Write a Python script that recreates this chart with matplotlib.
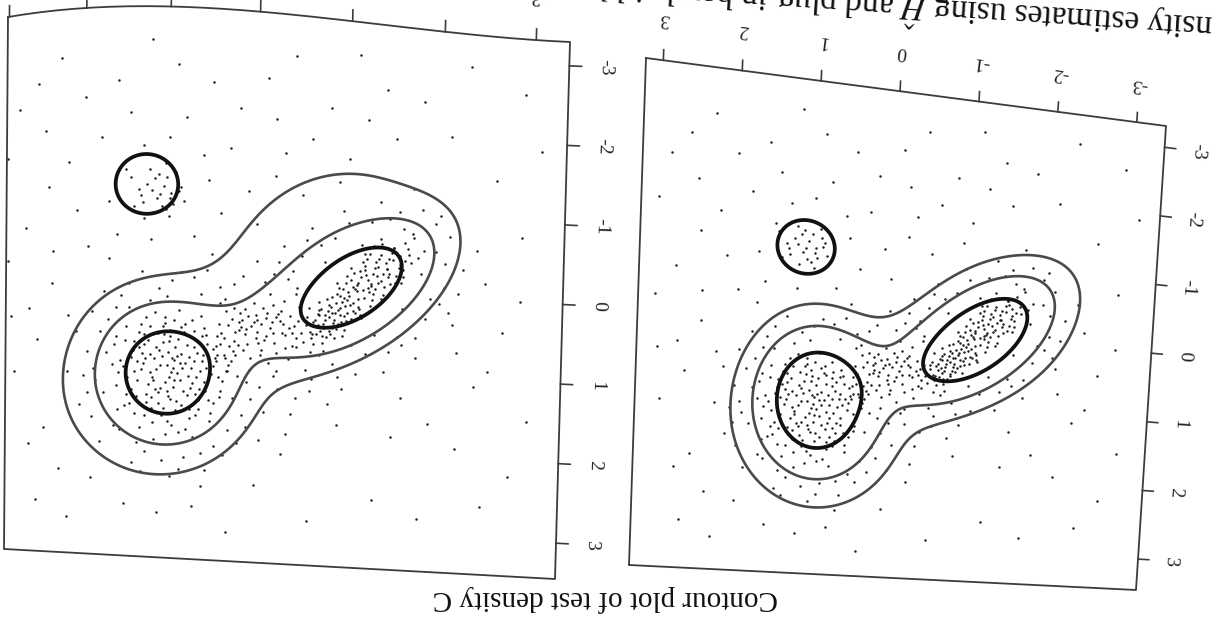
import numpy as np
import matplotlib
matplotlib.use("Agg")
import matplotlib.pyplot as plt
import matplotlib.transforms as mtransforms

plt.rcParams['font.family'] = ['Liberation Serif', 'DejaVu Serif']
plt.rcParams['mathtext.fontset'] = 'stix'

# --- the bivariate sample (x, y) -------------------------------------------
pts_a = [
    (0.91, 1.02), (0.75, 1.21), (1.12, 0.88), (0.64, 0.79), (1.30, 1.15), (0.98, 1.47), (0.55, 1.10), (1.05, 0.61), (0.83, 0.95), (1.21, 1.33),
    (0.70, 1.55), (1.40, 0.92), (0.47, 0.86), (0.96, 0.73), (1.18, 1.62), (0.62, 1.36), (0.88, 1.18), (1.33, 0.70), (0.79, 0.58), (1.08, 1.09),
    (0.52, 1.49), (1.46, 1.25), (0.94, 1.82), (0.68, 1.03), (1.25, 0.51), (0.41, 1.21), (1.02, 1.30), (0.86, 0.41), (1.55, 1.05), (0.73, 1.72),
    (1.15, 1.01), (0.58, 0.62), (0.99, 0.93), (1.36, 1.48), (0.81, 1.40), (1.22, 0.79), (0.44, 1.01), (0.92, 0.54), (1.09, 1.56), (0.66, 1.22),
    (1.48, 0.63), (0.77, 0.83), (1.01, 1.94), (0.35, 0.93), (1.28, 1.08), (0.89, 1.63), (0.61, 0.47), (1.17, 1.24), (0.72, 1.11), (1.59, 1.36),
    (0.97, 0.66), (0.50, 1.65), (1.39, 0.81), (0.84, 1.27), (1.05, 0.81), (0.65, 0.92), (1.26, 1.71), (0.93, 1.12), (0.43, 0.71), (1.14, 0.45),
    (0.78, 1.86), (1.44, 1.57), (0.57, 1.28), (1.07, 1.38), (0.87, 0.76), (1.63, 0.86), (0.69, 0.66), (1.20, 0.96), (0.95, 1.51), (0.38, 1.38),
    (1.11, 0.70), (0.76, 1.45), (1.34, 1.29), (0.59, 1.02), (1.00, 1.09), (0.83, 1.57), (1.51, 1.12), (0.71, 0.52), (1.24, 1.46), (0.90, 0.86),
    (0.46, 1.53), (1.16, 1.80), (0.63, 1.61), (1.42, 1.01), (0.85, 1.06), (1.03, 0.50), (0.54, 0.81), (1.31, 0.60), (0.97, 1.24), (0.74, 0.98),
    (1.19, 1.18), (0.67, 1.43), (1.06, 0.98), (0.31, 1.12), (1.37, 1.70), (0.80, 0.68), (1.10, 1.43), (0.60, 0.72), (0.92, 1.36), (1.27, 0.85),
    (0.82, 1.12), (1.13, 1.39), (0.58, 0.95), (1.29, 0.95), (0.97, 0.80), (0.71, 1.30), (1.41, 1.40), (0.88, 1.52), (1.20, 0.62), (0.49, 1.17),
    (1.06, 1.71), (0.77, 0.71), (1.35, 1.06), (0.63, 1.50), (0.94, 1.00), (1.23, 1.55), (0.55, 0.70), (1.49, 0.80), (0.86, 1.90), (1.02, 0.58),
    (0.40, 1.45), (1.31, 1.86), (0.69, 0.85), (1.12, 1.15), (0.91, 1.27), (1.57, 1.20), (0.74, 1.62), (0.99, 1.41), (1.27, 0.72), (0.52, 1.02),
    (0.88, 0.98), (1.16, 1.28), (0.61, 1.14), (1.38, 1.18), (0.79, 1.05), (1.04, 1.62), (0.70, 0.74), (1.25, 1.01), (0.95, 1.17), (0.56, 1.38),
    (1.47, 1.47), (0.84, 0.62), (1.09, 0.91), (0.66, 1.68), (1.33, 0.88), (0.99, 1.77), (0.45, 0.97), (1.18, 1.49), (0.73, 1.36), (1.03, 0.71),
]
pts_b = [
    (-1.02, 0.10), (-1.25, -0.05), (-0.84, 0.32), (-1.41, -0.35), (-0.70, 0.36), (-1.13, 0.25), (-0.95, 0.02), (-1.55, -0.30), (-0.62, 0.60), (-1.30, -0.02),
    (-1.07, -0.20), (-0.78, 0.15), (-1.48, -0.48), (-0.90, 0.45), (-1.20, -0.18), (-0.55, 0.44), (-1.66, -0.48), (-1.00, 0.30), (-0.73, 0.62), (-1.36, -0.12),
    (-1.16, -0.34), (-0.88, 0.20), (-1.60, -0.28), (-0.66, 0.50), (-1.27, 0.12), (-0.98, -0.06), (-1.45, -0.22), (-0.81, 0.55), (-1.10, 0.03), (-0.59, 0.28),
    (-1.71, -0.70), (-0.93, 0.34), (-1.34, -0.40), (-0.76, 0.42), (-1.22, -0.02), (-1.05, 0.38), (-1.52, -0.50), (-0.69, 0.20), (-1.14, -0.15), (-0.86, 0.63),
    (-1.39, 0.05), (-0.96, 0.12), (-1.62, -0.62), (-0.71, 0.55), (-1.18, 0.10), (-0.50, 0.60), (-1.29, -0.28), (-0.91, 0.00), (-1.46, -0.10), (-0.79, 0.30),
    (-1.08, 0.00), (-1.82, -0.55), (-0.64, 0.72), (-1.24, -0.45), (-0.99, 0.40), (-1.57, -0.35), (-0.83, 0.12), (-1.32, -0.18), (-0.57, 0.40), (-1.12, 0.22),
    (-1.43, -0.28), (-0.74, 0.46), (-1.03, -0.25), (-0.92, 0.25), (-1.68, -0.38), (-0.61, 0.82), (-1.19, -0.30), (-0.85, 0.44), (-1.37, -0.58), (-1.06, 0.18),
    (-0.72, 0.28), (-1.50, -0.55), (-0.97, 0.52), (-1.26, -0.08), (-0.53, 0.70), (-1.15, 0.35), (-0.89, -0.05), (-1.58, -0.12), (-0.80, 0.38), (-1.33, -0.30),
    (-1.01, 0.05), (-0.67, 0.60), (-1.44, -0.40), (-0.94, 0.18), (-1.76, -0.45), (-0.75, 0.80), (-1.21, -0.38), (-0.87, 0.32), (-1.09, 0.30), (-0.63, 0.45),
    (-1.40, -0.05), (-1.04, -0.10), (-0.82, 0.58), (-1.53, -0.20), (-0.68, 0.35), (-1.17, 0.00), (-0.45, 0.78), (-1.28, -0.55), (-0.95, 0.60), (-1.11, -0.08),
    (-1.03, 0.20), (-1.22, -0.12), (-0.86, 0.40), (-1.38, -0.22), (-0.74, 0.52), (-1.10, -0.05), (-0.92, 0.10), (-1.49, -0.40), (-0.65, 0.42), (-1.28, 0.05),
    (-1.14, 0.32), (-0.80, 0.22), (-1.56, -0.45), (-0.97, 0.35), (-1.19, -0.25), (-0.60, 0.58), (-1.65, -0.55), (-1.06, -0.02), (-0.88, 0.52), (-1.33, -0.10),
    (-1.44, -0.18), (-0.78, 0.62), (-1.25, 0.20), (-0.99, -0.15), (-0.70, 0.30), (-1.36, -0.45), (-0.90, 0.28), (-1.12, 0.12), (-1.60, -0.20), (-0.56, 0.50),
    (-1.00, 0.15), (-1.23, 0.02), (-0.83, 0.25), (-1.42, -0.28), (-0.69, 0.48), (-1.13, -0.22), (-0.94, 0.42), (-1.51, -0.12), (-0.76, 0.35), (-1.30, -0.35),
    (-1.06, 0.28), (-0.61, 0.65), (-1.37, 0.10), (-0.89, 0.08), (-1.18, -0.44), (-0.98, 0.22), (-1.62, -0.40), (-0.73, 0.70), (-1.27, -0.20), (-0.84, 0.50),
]
pts_bridge = [
    (-0.42, 0.52), (-0.25, 0.38), (-0.10, 0.71), (0.05, 0.55), (0.22, 0.92), (0.38, 0.66), (-0.33, 0.80), (-0.18, 0.49), (0.12, 0.35), (0.30, 1.05),
    (-0.48, 0.28), (-0.05, 0.90), (0.18, 0.62), (0.44, 0.83), (-0.29, 0.61), (0.00, 0.42), (0.26, 0.48), (-0.14, 1.00), (0.09, 0.78), (-0.38, 0.40),
    (0.34, 0.97), (-0.21, 0.74), (0.15, 0.49), (-0.02, 0.63), (0.41, 0.55), (-0.45, 0.66), (0.24, 0.75), (-0.08, 0.33), (0.06, 1.10), (-0.31, 0.22),
    (0.33, 0.39), (-0.16, 0.57), (0.20, 1.18), (0.02, 0.27), (-0.36, 0.93), (0.47, 1.07), (-0.11, 0.44), (0.13, 0.86), (-0.24, 1.09), (0.29, 0.82),
    (-0.03, 0.76), (0.40, 0.30), (-0.44, 0.12), (0.10, 0.60), (-0.19, 0.28), (0.36, 1.25), (-0.27, 0.47), (0.17, 0.40), (-0.06, 0.52), (0.23, 0.64),
    (-0.37, 0.55), (-0.20, 0.62), (0.02, 0.50), (0.19, 0.80), (0.35, 0.72), (-0.28, 0.35), (-0.06, 0.84), (0.11, 0.66), (0.27, 1.00), (-0.41, 0.76),
    (-0.13, 0.38), (0.06, 0.95), (0.31, 0.56), (-0.33, 0.64), (0.16, 0.58), (-0.23, 0.86), (0.42, 0.94), (-0.02, 0.48), (0.24, 0.35), (-0.47, 0.45),
    (-0.30, 0.50), (-0.12, 0.66), (0.08, 0.44), (0.25, 0.88), (0.39, 0.80), (-0.40, 0.60), (-0.01, 0.70), (0.18, 0.52), (-0.22, 0.42), (0.32, 1.12),
]
pts_halo = [
    (1.85, 1.30), (1.70, 0.55), (1.62, 1.85), (1.25, 2.15), (0.80, 2.20), (0.30, 1.85), (0.05, 1.45), (1.95, 0.95), (1.55, 0.25), (1.10, 0.15),
    (0.62, 0.20), (0.25, 0.05), (0.45, 2.05), (1.40, 2.30), (2.05, 1.60), (1.80, 2.05), (0.15, 1.65), (-0.25, 1.30), (-0.55, 1.05), (-0.85, 0.95),
    (-1.20, 0.80), (-1.55, 0.55), (-1.85, 0.30), (-2.05, -0.10), (-1.95, -0.55), (-1.60, -0.80), (-1.25, -0.85), (-0.85, -0.60), (-0.50, -0.35), (-0.20, -0.10),
    (0.15, -0.05), (0.55, -0.10), (0.85, -0.05), (1.30, -0.05), (1.75, 0.20), (2.10, 0.70), (0.95, 2.45), (0.55, 2.35), (-0.05, 1.95), (-0.40, 1.60),
    (-0.95, 1.25), (-1.40, 1.00), (-1.75, 0.80), (-2.15, 0.35), (-2.25, -0.35), (-1.80, -1.05), (-1.35, -1.10), (-0.95, -0.95), (-0.60, -0.70), (-0.30, -0.45),
    (1.50, 1.60), (1.65, 1.10), (1.45, 0.40), (0.35, 0.25), (0.10, 1.25), (-0.70, 0.85), (-1.60, 0.20), (-1.80, -0.25), (-1.35, -0.65), (-0.40, -0.15),
    (0.70, 1.95), (1.15, 2.00), (1.90, 1.75), (0.25, 1.45), (-0.20, 1.15), (-1.05, 0.70), (-1.30, 0.55), (-2.00, 0.10), (-1.50, -0.55), (-0.75, -0.30),
    (-0.15, 0.15), (0.40, 0.10), (1.00, 0.25), (1.60, 0.75), (1.75, 1.45), (0.50, 1.75), (-0.60, 1.30), (-1.15, -0.55), (-0.25, -0.25), (2.20, 1.20),
    (1.72, 0.95), (1.58, 1.65), (0.35, 2.15), (1.05, 2.25), (-0.10, 1.60), (-0.62, 1.15), (-1.45, 0.75), (-1.90, 0.05), (-2.05, -0.40), (-1.55, -1.00),
    (-0.70, -0.50), (-0.10, 0.00), (0.70, 0.00), (1.45, 0.10), (1.90, 0.45), (1.95, 1.45), (1.30, 2.40), (0.60, 2.55), (-0.35, 1.85), (-1.10, 1.05),
    (-1.75, 0.55), (-2.20, -0.05), (-1.70, -0.75), (-1.00, -0.80), (-0.35, -0.05), (0.50, -0.30), (1.20, 0.30), (1.80, 0.70), (0.20, 2.00), (-0.80, 1.45),
    (1.60, 0.40), (1.88, 1.15), (1.35, 2.05), (0.85, 2.35), (0.10, 1.80), (-0.45, 1.40), (-0.90, 1.10), (-1.60, 0.65), (-2.10, 0.20), (-2.10, -0.75),
    (-1.45, -0.90), (-0.55, -0.55), (0.00, -0.25), (0.95, 0.05), (1.55, 1.90), (2.00, 1.25), (-1.95, -0.90), (-0.45, 0.05), (0.60, 2.15), (-0.05, 1.30),
]
pts_small = [
    (1.10, -1.00), (0.95, -0.88), (1.25, -1.12), (1.02, -1.21), (1.30, -0.90), (0.88, -1.05), (1.18, -0.78), (1.06, -1.10), (0.92, -1.28), (1.35, -1.05),
    (1.14, -0.95), (0.99, -0.74), (1.22, -1.30), (0.83, -0.92), (1.40, -0.85), (1.08, -0.86), (1.16, -1.19), (0.97, -1.02), (1.28, -0.70), (1.04, -1.38),
    (0.90, -1.16), (1.45, -1.20), (1.20, -1.05), (0.98, -0.95), (1.12, -1.25), (1.32, -0.98), (1.03, -0.82), (0.86, -1.10),
]
pts_sparse = [
    (2.60, 2.80), (2.90, 1.20), (2.40, 0.10), (2.75, -0.60), (2.20, -1.40), (2.85, -2.10), (2.30, -2.70), (1.60, -2.40), (1.80, -1.70), (2.10, -0.80),
    (1.50, -1.30), (0.60, -1.50), (0.20, -2.10), (0.90, -2.60), (-0.40, -2.80), (-0.80, -2.20), (-1.40, -2.50), (-2.10, -2.00), (-2.60, -1.50), (-2.90, -0.80),
    (-2.70, 0.40), (-2.40, 1.10), (-1.90, 1.60), (-2.80, 2.20), (-1.30, 2.60), (-0.60, 2.90), (0.00, 2.50), (-0.30, 2.10), (1.10, 2.90), (1.90, 2.50),
    (2.50, 1.90), (2.95, 0.50), (1.95, -0.35), (1.20, -0.45), (0.40, -0.80), (-0.20, -1.30), (-1.00, -1.60), (-1.70, -1.30), (-2.40, -0.60), (-2.55, 0.90),
    (0.80, -1.95), (1.70, -0.90), (2.45, -1.10), (0.30, -1.60), (-0.60, -1.80), (-1.50, -1.90), (0.00, -0.70), (0.70, -0.50), (2.60, 0.80), (2.30, 2.40),
    (-0.90, 1.70), (-1.60, 1.30), (-2.20, 1.90), (-0.50, -1.10), (1.45, -2.00), (0.50, -2.40), (-1.10, -2.90), (2.00, -2.20), (-2.90, -2.60), (3.00, -1.50),
    (2.70, 2.10), (2.20, 3.00), (1.50, 2.80), (0.30, 3.10), (-1.80, 2.80), (-2.50, 2.60), (-3.00, 1.50), (-2.90, 0.00), (-3.10, -1.90), (-2.30, -2.90),
    (-1.80, -2.40), (-0.10, -2.50), (1.20, -2.90), (2.60, -2.40), (3.00, -0.20), (2.70, 0.40), (1.00, -1.70), (0.10, -1.10), (-0.90, -1.30), (-2.00, -1.00),
    (2.40, -0.30), (1.60, -0.50), (0.55, -1.20), (-0.30, -1.60), (2.20, 0.50), (2.50, -1.80), (1.30, -1.60), (-0.20, -2.00), (-1.20, -2.10), (-2.50, -0.20),
    (-2.20, 0.70), (-1.50, 1.80), (0.70, 2.80), (1.70, -0.20),
]

tick_values = [-3, -2, -1, 0, 1, 2, 3]

# --- normal-mixture surfaces for the two estimates --------------------------
# components: mode A, mode B, ridge, shoulder round A, shoulder round B
est1_means = [(1.00, 1.19), (-1.09, -0.03), (-0.05, 0.55), (1.20, 1.30), (-0.80, -0.40)]
est1_covs = [[[0.15, 0.0], [0.0, 0.17]], [[0.1775, 0.1025], [0.1025, 0.1775]],
             [[0.58, 0.235], [0.235, 0.239]], [[0.55, 0.0], [0.0, 0.60]],
             [[0.70, 0.20], [0.20, 0.70]]]
est1_weights = [0.26, 0.25, 0.08, 0.14, 0.14]
est1_level_frac = [0.05, 0.16, 0.51]          # contour heights relative to the peak
est1_island = [(1.26, -1.12), 0.22, 0.25]     # mean, sd, level relative to its peak

est2_means = [(0.89, 1.01), (-1.15, 0.03), (-0.12, 0.50), (0.85, 1.45), (-1.30, -0.10)]
est2_covs = [[[0.20, 0.0], [0.0, 0.33]], [[0.25, 0.15], [0.15, 0.25]],
             [[0.507, 0.182], [0.182, 0.243]], [[0.45, 0.0], [0.0, 0.50]],
             [[0.55, 0.15], [0.15, 0.55]]]
est2_weights = [0.30, 0.26, 0.06, 0.13, 0.12]
est2_level_frac = [0.075, 0.21, 0.51]
est2_island = [(1.10, -1.02), 0.22, 0.25]


def mixture(xx, yy, means, covs, weights):
    zz = np.zeros_like(xx)
    for m, c, w in zip(means, covs, weights):
        c = np.array(c)
        inv = np.linalg.inv(c)
        dx, dy = xx - m[0], yy - m[1]
        q = inv[0, 0] * dx * dx + 2 * inv[0, 1] * dx * dy + inv[1, 1] * dy * dy
        zz += w * np.exp(-q / 2) / (2 * np.pi * np.sqrt(np.linalg.det(c)))
    return zz


class PagePanel(mtransforms.Transform):
    """Maps panel data coords onto the (rotated, slightly curled) page."""
    input_dims = 2
    output_dims = 2
    is_separable = False
    has_inverse = False

    def __init__(self, corners, xlim, ylim, bow=0.0, squeeze=0.0):
        super().__init__()
        self.corners = np.asarray(corners, float)
        self.xlim, self.ylim = xlim, ylim
        self.bow, self.squeeze = bow, squeeze

    def transform_non_affine(self, values):
        values = np.asarray(values, float).reshape(-1, 2)
        u = (values[:, 0] - self.xlim[0]) / (self.xlim[1] - self.xlim[0])
        v = (values[:, 1] - self.ylim[0]) / (self.ylim[1] - self.ylim[0])
        u = u - self.squeeze * u * (1 - u) ** 2
        tl, tr, br, bl = self.corners
        out = (np.outer((1 - u) * (1 - v), tl) + np.outer(u * (1 - v), tr)
               + np.outer(u * v, br) + np.outer((1 - u) * v, bl))
        out[:, 1] -= self.bow * 6.75 * u * (1 - u) ** 2 * (1 - v)
        return out


W, H = 1213, 637
fig = plt.figure(figsize=(W / 100, H / 100), dpi=100)
ax = fig.add_axes([0, 0, 1, 1])
ax.set_xlim(0, W)
ax.set_ylim(H, 0)
ax.set_autoscale_on(False)
ax.axis('off')

sample = np.array(pts_a + pts_b + pts_bridge + pts_halo + pts_small + pts_sparse)

grid = np.linspace(-3.5, 3.5, 400)
gx, gy = np.meshgrid(grid, grid)


def draw_panel(corners, xlim, ylim, means, covs, weights, level_frac, island, bow=0.0, squeeze=0.0):
    pt = PagePanel(corners, xlim, ylim, bow, squeeze)
    tr = pt + ax.transData

    # frame
    s = np.linspace(0, 1, 60)
    x0, x1 = xlim
    y0, y1 = ylim
    fx = np.concatenate([x0 + (x1 - x0) * s, np.full(60, x1), x1 + (x0 - x1) * s, np.full(60, x0)])
    fy = np.concatenate([np.full(60, y0), y0 + (y1 - y0) * s, np.full(60, y1), y1 + (y0 - y1) * s])
    ax.plot(fx, fy, color='#3c3c3c', lw=1.3, transform=tr)

    # axis ticks and labels (x along the upper edge, y along the right edge)
    c = np.asarray(corners, float)
    top_ang = np.degrees(np.arctan2(-(c[1, 1] - c[0, 1]), c[1, 0] - c[0, 0]))
    right_ang = np.degrees(np.arctan2(-(c[2, 1] - c[1, 1]), c[2, 0] - c[1, 0]))
    tick_len = 0.14
    for t in tick_values:
        ax.plot([t, t], [y0, y0 - tick_len], color='#3c3c3c', lw=1.2, transform=tr)
        ax.text(t, y0 - 0.55, str(t), transform=tr, rotation=180 + top_ang,
                rotation_mode='anchor', ha='center', va='center', fontsize=14, color='#222')
        ax.plot([x1, x1 - tick_len], [t, t], color='#3c3c3c', lw=1.2, transform=tr)
        ax.text(x1 - 0.42, t, str(t), transform=tr, rotation=right_ang,
                rotation_mode='anchor', ha='center', va='center', fontsize=14, color='#222')

    ax.scatter(sample[:, 0], sample[:, 1], s=3.2, c='#1c1c1c', linewidths=0, transform=tr)

    zmain = mixture(gx, gy, means, covs, weights)
    levels = np.array(level_frac) * zmain.max()
    ax.contour(gx, gy, zmain, levels=levels[:2], colors='#4a4a4a', linewidths=1.9, transform=tr)
    ax.contour(gx, gy, zmain, levels=levels[2:], colors='#111111', linewidths=2.7, transform=tr)

    m, sd, frac = island
    zisl = mixture(gx, gy, [m], [[[sd ** 2, 0.0], [0.0, sd ** 2]]], [1.0])
    ax.contour(gx, gy, zisl, levels=[frac * zisl.max()], colors='#111111', linewidths=2.7, transform=tr)


draw_panel([(8, 17), (570, 42), (555, 579), (4, 549)], (3.02, -3.38), (-3.30, 3.45),
           est1_means, est1_covs, est1_weights, est1_level_frac, est1_island, bow=18, squeeze=0.17)
draw_panel([(646, 58), (1166, 126), (1136, 590), (629, 565)], (3.22, -3.37), (-3.31, 3.45),
           est2_means, est2_covs, est2_weights, est2_level_frac, est2_island)

# captions (the page is upside down)
ax.text(605, 598, 'Contour plot of test density C', rotation=180, ha='center', va='center',
        fontsize=21, color='#111')
ax.text(1343, 23, r'Kernel density estimates using $\hat{H}$ and plug-in bandwidth selectors',
        rotation=176.3, rotation_mode='anchor', ha='left', va='baseline', fontsize=24, color='#111')

ax.set_xlim(0, W)
ax.set_ylim(H, 0)
fig.savefig('out.png', dpi=100, facecolor='white')
